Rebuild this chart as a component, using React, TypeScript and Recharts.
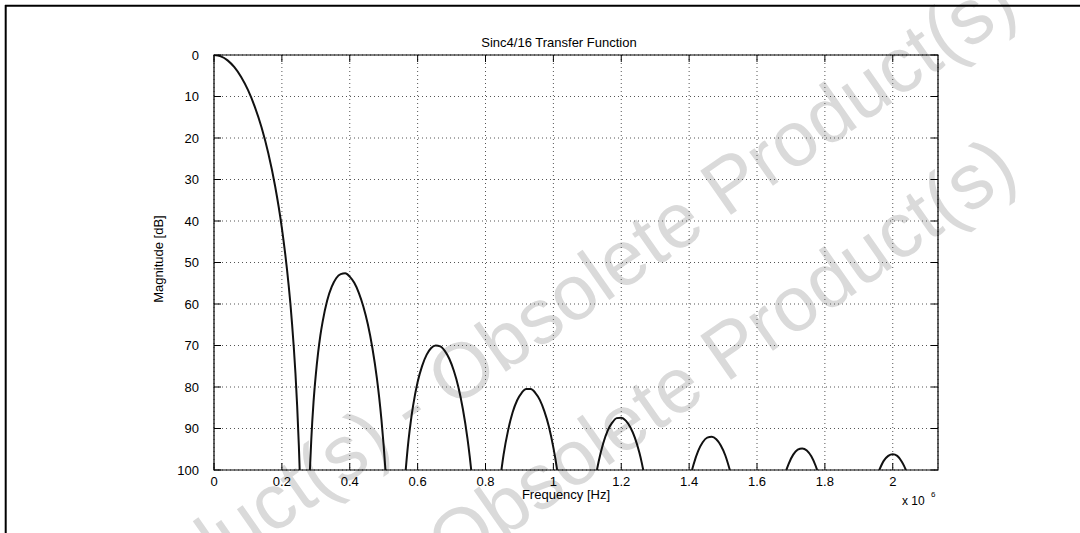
import React from 'react';
import { LineChart, Line, XAxis, YAxis, CartesianGrid, ReferenceArea } from 'recharts';

// plot box, in page pixels
const W = 1080;
const H = 533;
const PLOT_LEFT = 214;
const PLOT_TOP = 55;
const PLOT_RIGHT = 938;
const PLOT_BOTTOM = 470;

const FONT = '"Liberation Sans", Arial, Helvetica, sans-serif';

const FREQ_MAX = 2.1333; // x 10^6 Hz
const xTicks = [0, 0.2, 0.4, 0.6, 0.8, 1, 1.2, 1.4, 1.6, 1.8, 2];
const yTicks = [0, 10, 20, 30, 40, 50, 60, 70, 80, 90, 100];

const WATERMARK = 'Obsolete Product(s) - Obsolete Product(s)';

// [frequency (MHz), magnitude (dB)], one array per lobe
const mainLobe = [
  [0, 0], [0.02, 0.32], [0.04, 1.29], [0.06, 2.94], [0.08, 5.29], [0.1, 8.41],
  [0.12, 12.42], [0.14, 17.43], [0.16, 23.69], [0.18, 31.56], [0.2, 41.69],
  [0.21, 48.06], [0.215, 51.6], [0.22, 55.49], [0.225, 59.8], [0.23, 64.8],
  [0.235, 70.3], [0.24, 76.7], [0.245, 84.5], [0.25, 94.1], [0.2525, 100],
];
const lobe1 = [
  [0.2826, 100], [0.2867, 92.6], [0.2933, 83.6], [0.3, 77.0], [0.3067, 71.8],
  [0.3133, 67.6], [0.32, 64.3], [0.3333, 59.2], [0.3467, 55.9], [0.36, 53.8],
  [0.3733, 52.8], [0.3867, 52.6], [0.4, 53.4], [0.4133, 54.9], [0.4267, 57.3],
  [0.44, 60.6], [0.4533, 64.9], [0.4667, 70.6], [0.48, 77.9], [0.4867, 82.5],
  [0.4933, 87.8], [0.5, 94.2], [0.5051, 100],
];
const lobe2 = [
  [0.5649, 100], [0.5667, 98.3], [0.5733, 92.7], [0.58, 88.2], [0.5867, 84.5],
  [0.6, 78.8], [0.6133, 74.9], [0.6267, 72.2], [0.64, 70.6], [0.6533, 70.0],
  [0.6667, 70.2], [0.68, 71.3], [0.6933, 73.2], [0.7067, 76.1], [0.72, 80.0],
  [0.7333, 85.3], [0.7467, 92.3], [0.7533, 96.6], [0.7579, 100],
];
const lobe3 = [
  [0.8469, 100], [0.8533, 96.3], [0.8667, 90.4], [0.88, 86.1], [0.8933, 83.2],
  [0.9067, 81.4], [0.92, 80.5], [0.9333, 80.5], [0.9467, 81.4], [0.96, 83.1],
  [0.9733, 85.8], [0.9867, 89.5], [1.0, 94.6], [1.0067, 97.7], [1.011, 100],
];
const lobe4 = [
  [1.1283, 100], [1.1333, 98.0], [1.1467, 93.6], [1.16, 90.5], [1.1733, 88.6],
  [1.1867, 87.5], [1.2, 87.4], [1.2133, 88.1], [1.2267, 89.7], [1.24, 92.2],
  [1.2533, 95.8], [1.26, 98.1], [1.2648, 100],
];
const lobe5 = [
  [1.4085, 100], [1.4133, 98.6], [1.4267, 95.4], [1.44, 93.3], [1.4533, 92.2],
  [1.4667, 92.0], [1.48, 92.6], [1.4933, 94.1], [1.5067, 96.5], [1.52, 100],
];
const lobe6 = [
  [1.6864, 100], [1.6933, 98.5], [1.7067, 96.3], [1.72, 95.1], [1.7333, 94.8],
  [1.7467, 95.3], [1.76, 96.7], [1.7733, 99.1], [1.7772, 100],
];
const lobe7 = [
  [1.9603, 100], [1.9733, 97.8], [1.9867, 96.6], [2.0, 96.2], [2.0133, 96.6],
  [2.0267, 98.0], [2.0333, 99.0], [2.0387, 100],
];

const lobes = [mainLobe, lobe1, lobe2, lobe3, lobe4, lobe5, lobe6, lobe7].map((l) =>
  l.map(([f, m]) => ({ f, m }))
);

const XTick = (props: any) => {
  const { x, payload } = props;
  return (
    <g>
      <line x1={x} x2={x} y1={PLOT_BOTTOM} y2={PLOT_BOTTOM - 7} stroke="#000" />
      <line x1={x} x2={x} y1={PLOT_TOP} y2={PLOT_TOP + 7} stroke="#000" />
      <text x={x} y={PLOT_BOTTOM + 15.5} textAnchor="middle" fontSize={13} fontFamily={FONT} fill="#000">
        {payload.value}
      </text>
    </g>
  );
};

const YTick = (props: any) => {
  const { y, payload } = props;
  return (
    <g>
      <line x1={PLOT_LEFT} x2={PLOT_LEFT + 7} y1={y} y2={y} stroke="#000" />
      <line x1={PLOT_RIGHT} x2={PLOT_RIGHT - 7} y1={y} y2={y} stroke="#000" />
      <text x={PLOT_LEFT - 15} y={y + 4.6} textAnchor="end" fontSize={13} fontFamily={FONT} fill="#000">
        {payload.value}
      </text>
    </g>
  );
};

export default function App() {
  return (
    <div style={{ position: 'absolute', left: 0, top: 0, width: W, height: H, background: '#fff', overflow: 'hidden' }}>
      {/* faint watermark behind the chart */}
      <svg width={W} height={H} style={{ position: 'absolute', left: 0, top: 0 }}>
        <defs>
          <path id="wm1" d="M -174 846 L 1286 -172" />
          <path id="wm2" d="M -174 1011 L 1286 -7" />
        </defs>
        <text fontSize={78} fontFamily={FONT} fill="#dadada">
          <textPath href="#wm1">{WATERMARK}</textPath>
        </text>
        <text fontSize={78} fontFamily={FONT} fill="#dadada">
          <textPath href="#wm2">{WATERMARK}</textPath>
        </text>
      </svg>
      <div style={{ position: 'absolute', left: 0, top: 0 }}>
        <LineChart
          width={W}
          height={H}
          margin={{ top: PLOT_TOP, right: W - PLOT_RIGHT, bottom: H - PLOT_BOTTOM - 30, left: PLOT_LEFT - 40 }}
        >
          <CartesianGrid stroke="#555" strokeDasharray="1 3" />
          <XAxis
            dataKey="f"
            type="number"
            domain={[0, FREQ_MAX]}
            ticks={xTicks}
            allowDataOverflow
            height={30}
            axisLine={false}
            tickLine={false}
            tick={<XTick />}
            interval={0}
          />
          <YAxis
            type="number"
            domain={[0, 100]}
            ticks={yTicks}
            reversed
            allowDataOverflow
            width={40}
            axisLine={false}
            tickLine={false}
            tick={<YTick />}
            interval={0}
          />
          <ReferenceArea x1={0} x2={FREQ_MAX} y1={0} y2={100} fill="none" stroke="#000" strokeWidth={1.2} />
          {lobes.map((d, i) => (
            <Line
              key={i}
              data={d}
              dataKey="m"
              type="monotone"
              stroke="#111"
              strokeWidth={2}
              dot={false}
              isAnimationActive={false}
            />
          ))}
        </LineChart>
      </div>
      <svg width={W} height={H} style={{ position: 'absolute', left: 0, top: 0, pointerEvents: 'none' }}>
        <line x1={5} x2={W} y1={5.7} y2={5.7} stroke="#000" strokeWidth={2} />
        <line x1={5.7} x2={5.7} y1={5} y2={H} stroke="#000" strokeWidth={2} />
        <text x={559} y={46.7} textAnchor="middle" fontSize={13} fontFamily={FONT} fill="#000">
          Sinc4/16 Transfer Function
        </text>
        <text x={566} y={498.6} textAnchor="middle" fontSize={13} fontFamily={FONT} fill="#000">
          Frequency [Hz]
        </text>
        <text
          transform="translate(162.5,259) rotate(-90)"
          textAnchor="middle"
          fontSize={13}
          fontFamily={FONT}
          fill="#000"
        >
          Magnitude [dB]
        </text>
        <text x={902} y={505} fontSize={12} fontFamily={FONT} fill="#000">
          x 10
        </text>
        <text x={931} y={497} fontSize={8} fontFamily={FONT} fill="#000">
          6
        </text>
      </svg>
    </div>
  );
}
